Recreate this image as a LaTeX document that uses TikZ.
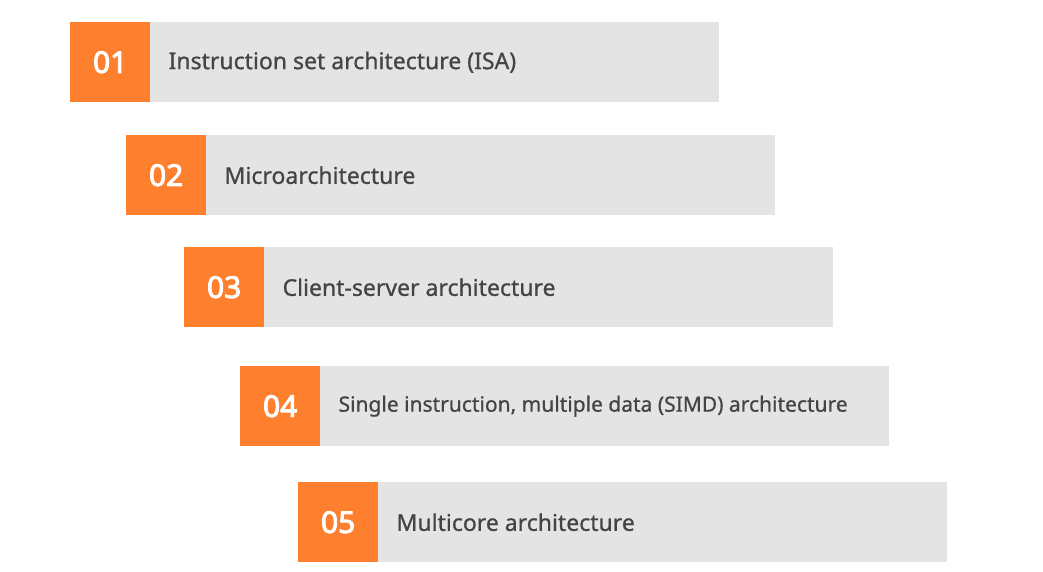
\documentclass[tikz,border=0pt]{standalone}
\usepackage{fontspec}
\setmainfont{Noto Sans}
\newfontfamily\numfont[FakeBold=3]{Noto Sans}
\newfontfamily\labelfont[FakeBold=0.8]{Noto Sans}
\usetikzlibrary{positioning}
\definecolor{stageorange}{HTML}{FE7F2D}
\definecolor{stagegray}{HTML}{E4E4E4}
\definecolor{stagetext}{HTML}{444444}
\tikzset{
  numbox/.style={fill=stageorange, minimum width=80pt, minimum height=80pt,
    inner sep=0pt, text=white, font=\numfont\fontsize{30}{34}\selectfont},
  barbox/.style={fill=stagegray, minimum width=569pt, minimum height=80pt,
    inner sep=0pt, outer sep=0pt},
  bartext/.style={text=stagetext, font=\labelfont\fontsize{#1}{27}\selectfont, inner sep=0pt}
}
\begin{document}
\begin{tikzpicture}[x=1pt, y=-1pt]
  \useasboundingbox (0,0) rectangle (1043,572);

  \def \pad {18pt} % gap between bar edge and its text

  \foreach \x/\y/\n/\s/\t in {70/22/01/23/{Instruction set architecture (ISA)},
                               126/135/02/23/{Microarchitecture},
                               184/247/03/23/{Client-server architecture},
                               240/366/04/21/{Single instruction, multiple data (SIMD) architecture},
                               298/482/05/23/{Multicore architecture}}
  {
    \node[numbox, anchor=north west] (num\n) at (\x,\y) {\n};
    \node[barbox, right=0pt of num\n] (bar\n) {};
    \node[bartext=\s, anchor=west, xshift=\pad] (label\n) at (bar\n.west) {\t};
  }
\end{tikzpicture}
\end{document}
